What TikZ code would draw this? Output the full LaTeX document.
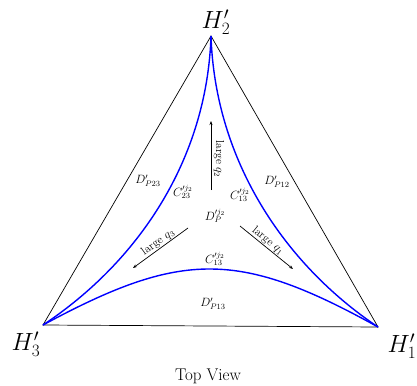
\documentclass[tikz,border=0pt]{standalone}
\usetikzlibrary{arrows.meta}
\begin{document}
\begin{tikzpicture}[x=1pt,y=-1pt,>={Stealth[length=4pt,width=3pt]},
  edge/.style={black, line width=0.7pt},
  bd/.style={blue, line width=1.4pt},
  lbl/.style={font=\fontsize{11.5}{13}\selectfont},
  corner/.style={font=\fontsize{25}{30}\selectfont}]

\useasboundingbox (0,0) rectangle (417,385);

\coordinate (H1) at (378,327);
\coordinate (H2) at (211,36);
\coordinate (H3) at (43,325);

\draw[edge] (H1) -- (H2) -- (H3) -- cycle;

% boundary curves
\draw[bd] (H2) .. controls (207,160) and (138,262) .. (H3);
\draw[bd] (H2) .. controls (215,160) and (284,264) .. (H1);
\draw[bd] (H3) .. controls (182,250) and (239,250) .. (H1);

\node[corner] (h2) at (216,22) {$H'_2$};
\node[corner] (h3) at (26,344) {$H'_3$};
\node[corner] (h1) at (402,346) {$H'_1$};

\node[lbl] (dp23) at (148,181) {$D'_{P23}$};
\node[lbl] (dp12) at (277,182) {$D'_{P12}$};
\node[lbl] (dp13) at (213,304) {$D'_{P13}$};
\node[lbl] (c23) at (183,192) {$C'^{j_2}_{23}$};
\node[lbl] (c13a) at (240,195) {$C'^{j_2}_{13}$};
\node[lbl] (c13b) at (215,259) {$C'^{j_2}_{13}$};
\node[lbl] (dp) at (215,216) {$D'^{j_2}_{P}$};

% directions
\coordinate (q2s) at (211,190);
\coordinate (q2e) at (211,121);
\coordinate (q3s) at (188,228);
\coordinate (q3e) at (133,268);
\coordinate (q1s) at (240,226);
\coordinate (q1e) at (293,269);
\draw[->, edge] (q2s) -- (q2e);
\draw[->, edge] (q3s) -- (q3e);
\draw[->, edge] (q1s) -- (q1e);

\node[lbl, rotate=-90] (l2) at (219,159) {large $q_2$};
\node[lbl, rotate=36] (l3) at (158,242) {large $q_3$};
\node[lbl, rotate=-39] (l1) at (268,241) {large $q_1$};

\node[font=\fontsize{17}{20}\selectfont, anchor=base] (tv) at (208,380) {Top View};

\end{tikzpicture}
\end{document}
